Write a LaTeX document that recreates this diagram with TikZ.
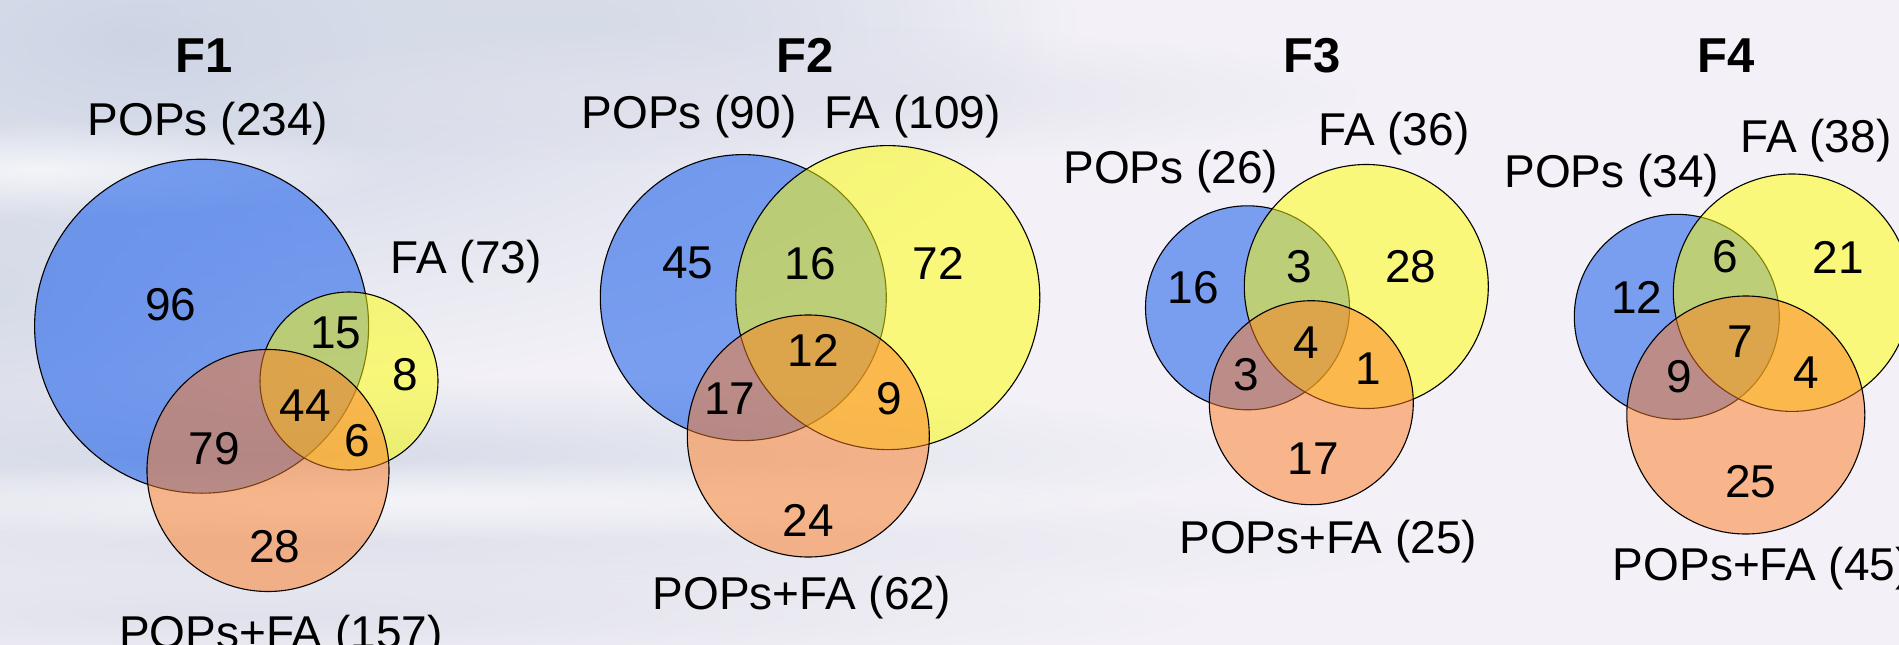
\documentclass[tikz,border=0pt]{standalone}
\usepackage{fontspec}
\setmainfont{Liberation Sans}
\usetikzlibrary{fadings}
\tikzfading[name=softblob, inner color=transparent!0, outer color=transparent!100]
\definecolor{bgc}{RGB}{243,241,247}
\definecolor{cloudA}{RGB}{204,212,228}
\definecolor{cloudB}{RGB}{214,219,232}
\definecolor{cloudC}{RGB}{224,225,236}
\definecolor{bluec}{RGB}{0,76,234}
\definecolor{yelc}{RGB}{255,255,0}
\definecolor{orac}{RGB}{253,123,33}
\tikzset{
  lab/.style={font=\fontsize{46}{50}\selectfont, inner sep=0pt, anchor=base},
  num/.style={font=\fontsize{46}{50}\selectfont, inner sep=0pt, anchor=center},
  ttl/.style={font=\fontsize{49}{54}\selectfont\bfseries, inner sep=0pt, anchor=base},
  setB/.style={fill=bluec, fill opacity=0.5, draw=black, line width=1.1pt},
  setY/.style={fill=yelc, fill opacity=0.5, draw=black, line width=1.1pt},
  setO/.style={fill=orac, fill opacity=0.5, draw=black, line width=1.1pt},
  blob/.style={path fading=softblob},
}
\begin{document}
\begin{tikzpicture}[x=1pt, y=-1pt]
\useasboundingbox (0,0) rectangle (1899,645);
\clip (0,0) rectangle (1899,645);
% background
\fill[bgc] (0,0) rectangle (1899,645);
\fill[cloudA, blob] (150,40) ellipse (900pt and 360pt);
\fill[cloudB, blob] (580,20) ellipse (500pt and 140pt);
\fill[cloudB, blob] (0,290) ellipse (300pt and 280pt);
\fill[cloudC, blob] (760,95) ellipse (600pt and 70pt);
\fill[white, blob, fill opacity=0.7] (40,170) ellipse (360pt and 50pt);
\fill[cloudB, blob] (260,455) ellipse (1000pt and 80pt);
\fill[cloudC, blob] (320,545) ellipse (1100pt and 70pt);
\fill[cloudC, blob] (250,615) ellipse (950pt and 60pt);
\fill[white, blob, fill opacity=0.6] (420,500) ellipse (800pt and 40pt);

% ---------- F1 ----------
\coordinate (b1) at (201.6,326.2);
\coordinate (y1) at (349,381);
\coordinate (o1) at (268,470.5);
\path[setB] (b1) circle (167pt);
\path[setY] (y1) circle (89pt);
\path[setO] (o1) circle (121pt);
\node[ttl] (t1) at (204,72) {F1};
\node[lab] (p1) at (208,135) {POPs (234)};
\node[lab] (f1) at (466.4,273) {FA (73)};
\node[lab] (pf1) at (281,648) {POPs+FA (157)};
\node[num] (n1a) at (170.7,304.4) {96};
\node[num] (n1b) at (335.7,333.2) {15};
\node[num] (n1c) at (405.4,374.3) {8};
\node[num] (n1d) at (305.4,405.2) {44};
\node[num] (n1e) at (214.3,448.4) {79};
\node[num] (n1f) at (357.1,440.2) {6};
\node[num] (n1g) at (275,547.1) {28};

% ---------- F2 ----------
\coordinate (b2) at (743.3,297.6);
\coordinate (y2) at (887.8,297.6);
\coordinate (o2) at (808.3,436);
\path[setB] (b2) circle (143pt);
\path[setY] (y2) circle (152pt);
\path[setO] (o2) circle (121pt);
\node[ttl] (t2) at (805.3,72) {F2};
\node[lab] (p2) at (689,128.3) {POPs (90)};
\node[lab] (f2) at (912.5,128.3) {FA (109)};
\node[lab] (pf2) at (801.7,609) {POPs+FA (62)};
\node[num] (n2a) at (687.7,263.3) {45};
\node[num] (n2b) at (810,263.3) {16};
\node[num] (n2c) at (938.3,263.3) {72};
\node[num] (n2d) at (813.3,350.5) {12};
\node[num] (n2e) at (730,399) {17};
\node[num] (n2f) at (889.3,399) {9};
\node[num] (n2g) at (808.3,520.4) {24};

% ---------- F3 ----------
\coordinate (b3) at (1247.5,307.8);
\coordinate (y3) at (1366.3,286.5);
\coordinate (o3) at (1311.3,402.7);
\path[setB] (b3) circle (102pt);
\path[setY] (y3) circle (122pt);
\path[setO] (o3) circle (102pt);
\node[ttl] (t3) at (1311.7,72) {F3};
\node[lab] (p3) at (1170.8,183) {POPs (26)};
\node[lab] (f3) at (1394,145) {FA (36)};
\node[lab] (pf3) at (1328.3,553) {POPs+FA (25)};
\node[num] (n3a) at (1193.3,288) {16};
\node[num] (n3b) at (1299.3,266.6) {3};
\node[num] (n3c) at (1410.7,266.6) {28};
\node[num] (n3d) at (1306,342.2) {4};
\node[num] (n3e) at (1246.7,374.3) {3};
\node[num] (n3f) at (1368.3,368.2) {1};
\node[num] (n3g) at (1313.3,458.7) {17};

% ---------- F4 ----------
\coordinate (b4) at (1676.8,316.8);
\coordinate (y4) at (1792,292.7);
\coordinate (o4) at (1745.8,415);
\path[setB] (b4) circle (102.5pt);
\path[setY] (y4) circle (118.7pt);
\path[setO] (o4) circle (119pt);
\node[ttl] (t4) at (1725.8,72) {F4};
\node[lab] (p4) at (1611.7,187) {POPs (34)};
\node[lab] (f4) at (1816,152) {FA (38)};
\node[lab, anchor=base west] (pf4) at (1612.7,580) {POPs+FA (45)};
\node[num] (n4a) at (1636.7,297) {12};
\node[num] (n4b) at (1725,257) {6};
\node[num] (n4c) at (1838.3,257) {21};
\node[num] (n4d) at (1740,341.4) {7};
\node[num] (n4e) at (1679.3,376.4) {9};
\node[num] (n4f) at (1806.7,372.3) {4};
\node[num] (n4g) at (1750.7,481.3) {25};
\end{tikzpicture}
\end{document}
